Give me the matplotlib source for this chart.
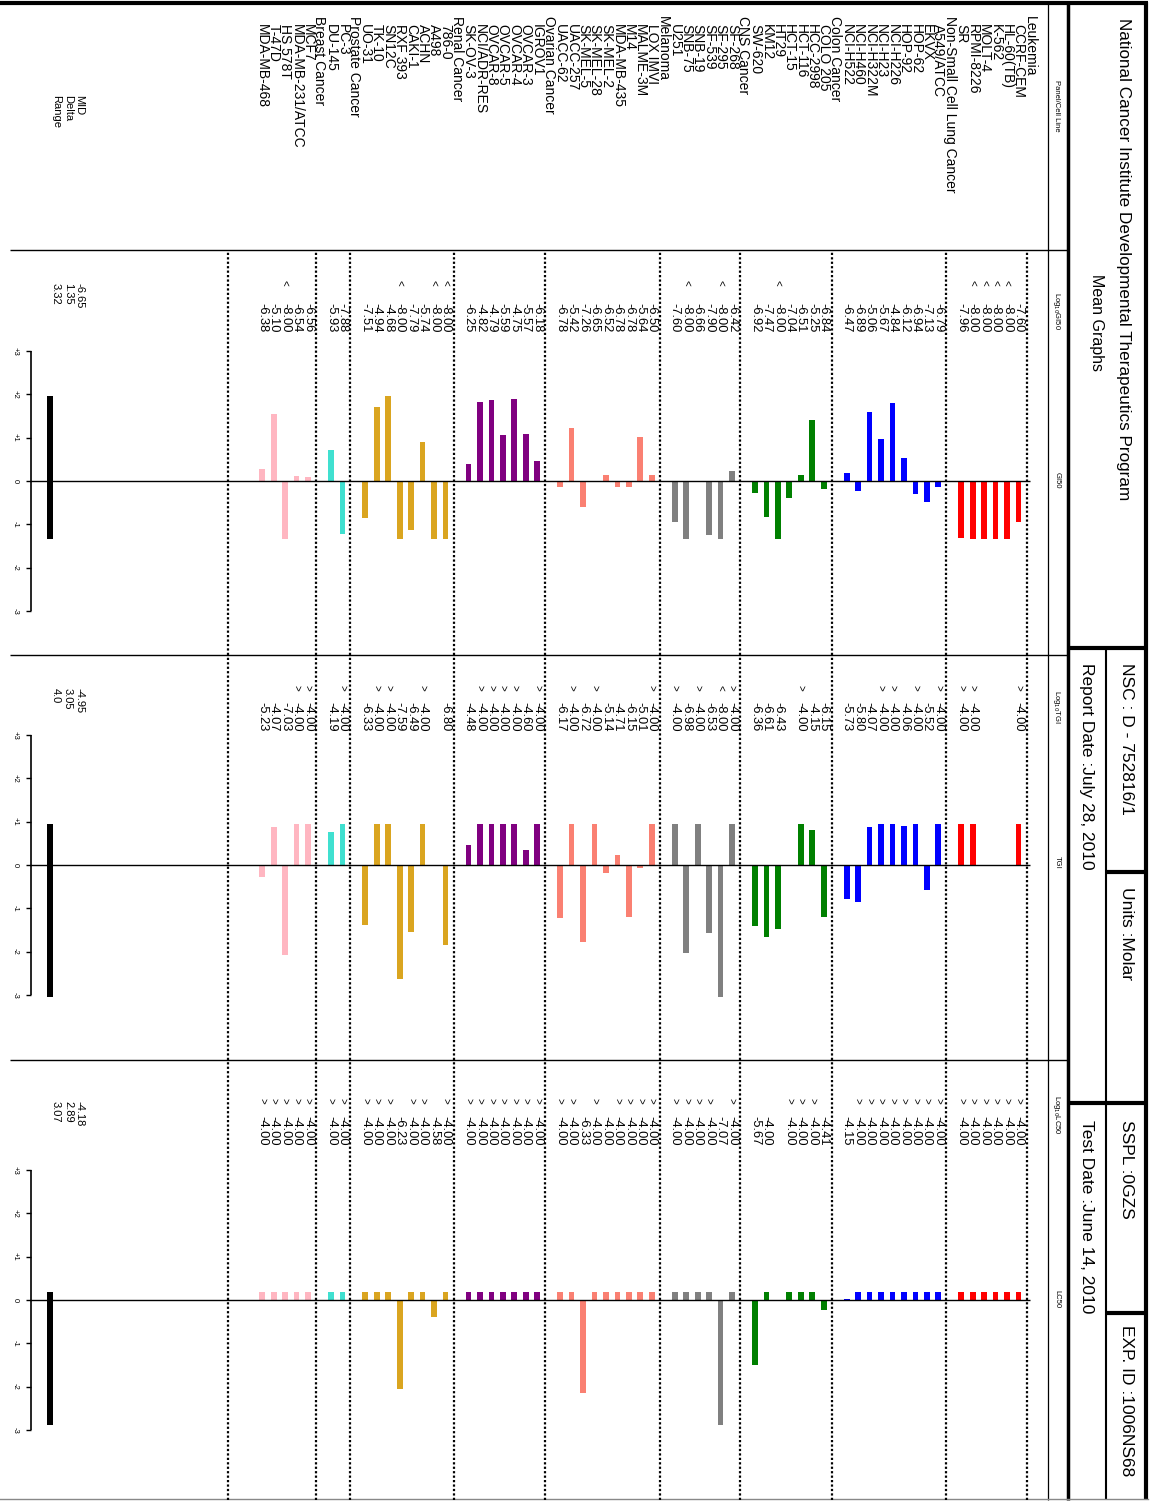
import numpy as np
import matplotlib
matplotlib.use("Agg")
import matplotlib.pyplot as plt

plt.rcParams['font.family'] = ['Liberation Sans', 'DejaVu Sans']

# ---- data -------------------------------------------------------------
panels = ["Leukemia", "Non-Small Cell Lung Cancer", "Colon Cancer", "CNS Cancer",
          "Melanoma", "Ovarian Cancer", "Renal Cancer", "Prostate Cancer", "Breast Cancer"]
panel_sizes = [6, 9, 7, 6, 9, 7, 8, 2, 5]
panel_colors = ["#ff0000", "#0000ff", "#008000", "#808080", "#fa8072",
                "#800080", "#daa520", "#40e0d0", "#ffb6c1"]

cell_lines = [
    "CCRF-CEM", "HL-60(TB)", "K-562", "MOLT-4", "RPMI-8226", "SR",
    "A549/ATCC", "EKVX", "HOP-62", "HOP-92", "NCI-H226", "NCI-H23", "NCI-H322M", "NCI-H460", "NCI-H522",
    "COLO 205", "HCC-2998", "HCT-116", "HCT-15", "HT29", "KM12", "SW-620",
    "SF-268", "SF-295", "SF-539", "SNB-19", "SNB-75", "U251",
    "LOX IMVI", "MALME-3M", "M14", "MDA-MB-435", "SK-MEL-2", "SK-MEL-28", "SK-MEL-5", "UACC-257", "UACC-62",
    "IGROV1", "OVCAR-3", "OVCAR-4", "OVCAR-5", "OVCAR-8", "NCI/ADR-RES", "SK-OV-3",
    "786-0", "A498", "ACHN", "CAKI-1", "RXF 393", "SN12C", "TK-10", "UO-31",
    "PC-3", "DU-145",
    "MCF7", "MDA-MB-231/ATCC", "HS 578T", "T-47D", "MDA-MB-468",
]

gi50 = [-7.60, -8.00, -8.00, -8.00, -8.00, -7.96,
        -6.79, -7.13, -6.94, -6.12, -4.84, -5.67, -5.06, -6.89, -6.47,
        -6.84, -5.25, -6.51, -7.04, -8.00, -7.47, -6.92,
        -6.42, -8.00, -7.90, -6.66, -8.00, -7.60,
        -6.50, -5.64, -6.78, -6.78, -6.52, -6.65, -7.26, -5.42, -6.78,
        -6.18, -5.57, -4.75, -5.59, -4.79, -4.82, -6.25,
        -8.00, -8.00, -5.74, -7.79, -8.00, -4.68, -4.94, -7.51,
        -7.88, -5.93,
        -6.56, -6.54, -8.00, -5.10, -6.38]
gi50_flag = ["", "<", "<", "<", "<", "",
             "", "", "", "", "", "", "", "", "",
             "", "", "", "", "<", "", "",
             "", "<", "", "", "<", "",
             "", "", "", "", "", "", "", "", "",
             "", "", "", "", "", "", "",
             "<", "<", "", "", "<", "", "", "",
             "", "",
             "", "", "<", "", ""]

tgi = [-4.00, None, None, None, -4.00, -4.00,
       -4.00, -5.52, -4.00, -4.06, -4.00, -4.00, -4.07, -5.80, -5.73,
       -6.15, -4.15, -4.00, None, -6.43, -6.61, -6.36,
       -4.00, -8.00, -6.53, -4.00, -6.98, -4.00,
       -4.00, -5.01, -6.15, -4.71, -5.14, -4.00, -6.72, -4.00, -6.17,
       -4.00, -4.60, -4.00, -4.00, -4.00, -4.00, -4.48,
       -6.80, None, -4.00, -6.49, -7.59, -4.00, -4.00, -6.33,
       -4.00, -4.19,
       -4.00, -4.00, -7.03, -4.07, -5.23]
tgi_flag = [">", "", "", "", ">", ">",
            ">", "", ">", "", ">", ">", "", "", "",
            "", "", ">", "", "", "", "",
            ">", "<", "", ">", "", ">",
            ">", "", "", "", "", ">", "", ">", "",
            ">", "", ">", ">", ">", ">", "",
            "", "", ">", "", "", ">", ">", "",
            ">", "",
            ">", ">", "", "", ""]

lc50 = [-4.00, -4.00, -4.00, -4.00, -4.00, -4.00,
        -4.00, -4.00, -4.00, -4.00, -4.00, -4.00, -4.00, -4.00, -4.15,
        -4.41, -4.00, -4.00, -4.00, None, -4.00, -5.67,
        -4.00, -7.07, -4.00, -4.00, -4.00, -4.00,
        -4.00, -4.00, -4.00, -4.00, -4.00, -4.00, -6.33, -4.00, -4.00,
        -4.00, -4.00, -4.00, -4.00, -4.00, -4.00, -4.00,
        -4.00, -4.58, -4.00, -4.00, -6.23, -4.00, -4.00, -4.00,
        -4.00, -4.00,
        -4.00, -4.00, -4.00, -4.00, -4.00]
lc50_flag = [">", ">", ">", ">", ">", ">",
             ">", ">", ">", ">", ">", ">", ">", ">", "",
             "", ">", ">", ">", "", "", "",
             ">", "", ">", ">", ">", ">",
             ">", ">", ">", ">", "", ">", "", ">", ">",
             ">", ">", ">", ">", ">", ">", ">",
             ">", "", ">", ">", "", ">", ">", ">",
             ">", ">",
             ">", ">", ">", ">", ">"]

mid_values = [-6.65, -4.95, -4.18]
summary_text = [("-6.65", "1.35", "3.32"), ("-4.95", "3.05", "4.0"), ("-4.18", "2.89", "3.07")]
scale_labels = ["+3", "+2", "+1", "0", "-1", "-2", "-3"]

# ---- layout (pixels of the 1151x1502 page) -----------------------------
W, H = 1151, 1502
X0, DX = 1030.0, 11.46          # x of row 0, row spacing
UNIT = 43.3                     # pixels per log unit


def px(r):
    return X0 - r * DX


def rw(x):
    return (X0 - x) / DX


rows, header_rows, line_colors = [], [], []
r = 0
for size, col in zip(panel_sizes, panel_colors):
    header_rows.append(r)
    r += 1
    for k in range(size):
        rows.append(r)
        line_colors.append(col)
        r += 1

fig = plt.figure(figsize=(W / 100, H / 100), dpi=100)
page = fig.add_axes([0, 0, 1, 1])
page.set_xlim(0, W)
page.set_ylim(H, 0)
page.axis("off")


def add_px_axes(x0, y0, x1, y1):
    ax = fig.add_axes([x0 / W, 1 - y1 / H, (x1 - x0) / W, (y1 - y0) / H])
    ax.patch.set_alpha(0)
    ax.axis("off")
    return ax


# frame lines
k = dict(color="black", solid_capstyle="butt")
page.plot([0, 1148], [3, 3], lw=3, **k)
page.plot([1146, 1146], [2, 1500], lw=3, **k)
page.plot([1068, 1068], [2, 1500], lw=2.5, **k)
page.plot([1048, 1048], [2, 1500], lw=0.9, **k)
page.plot([1068, 1146], [648, 648], lw=3, **k)
page.plot([1106, 1106], [648, 1500], lw=1.5, **k)
page.plot([1106, 1146], [872, 872], lw=3, **k)
page.plot([1068, 1146], [1103, 1103], lw=3, **k)
page.plot([1106, 1146], [1313, 1313], lw=3, **k)
page.plot([0, 1148], [1499, 1499], lw=1, color="#888888")
for yy in (250, 655, 1060):
    page.plot([10, 1068], [yy, yy], lw=1, **k)

# header box text
page.text(1124, 18, "National Cancer Institute Developmental Therapeutics Program",
          rotation=-90, ha="center", va="top", fontsize=12.3)
page.text(1097, 322, "Mean Graphs", rotation=-90, ha="center", va="center", fontsize=11.5)
for x, y, s in [(1127, 663, "NSC : D - 752816/1"), (1087, 663, "Report Date :July 28, 2010"),
                (1127, 887, "Units :Molar"), (1087, 1120, "Test Date :June 14, 2010"),
                (1127, 1120, "SSPL :0GZS"), (1127, 1325, "EXP. ID :1006NS68")]:
    page.text(x, y, s, rotation=-90, ha="center", va="top", fontsize=12.5)

for y, s in [(80, "Panel/Cell Line"), (292, r"Log$_{10}$GI50"), (472, "GI50"),
             (690, r"Log$_{10}$TGI"), (856, "TGI"), (1095, r"Log$_{10}$LC50"), (1290, "LC50")]:
    page.text(1057, y, s, rotation=-90, ha="center", va="top", fontsize=5.5)

# panel / cell line names
for hr, name in zip(header_rows, panels):
    page.text(px(hr), 16, name, rotation=-90, ha="center", va="top", fontsize=10)
for rr, name in zip(rows, cell_lines):
    page.text(px(rr), 24, name, rotation=-90, ha="center", va="top", fontsize=10)

for lx, s in zip((79, 68, 56), ("MID", "Delta", "Range")):
    page.text(lx, 95, s, rotation=-90, ha="center", va="top", fontsize=8)

# ---- the three mean graphs --------------------------------------------
graphs = [
    (gi50, gi50_flag, 250, 655, 481, 283, 303),
    (tgi, tgi_flag, 655, 1060, 865, 688, 702),
    (lc50, lc50_flag, 1060, 1500, 1300, 1101, 1116),
]

for gi, (vals, flags, ytop, ybot, y0, ysym, ytxt) in enumerate(graphs):
    ax = add_px_axes(10, ytop, 1048, ybot)
    ax.set_xlim(rw(10), rw(1048))
    ax.set_ylim((y0 - ybot) / UNIT, (y0 - ytop) / UNIT)
    mid = mid_values[gi]

    def dy(py):
        return (y0 - py) / UNIT

    # bars
    xs = [rr for rr, v in zip(rows, vals) if v is not None]
    hs = [v - mid for v in vals if v is not None]
    cs = [c for c, v in zip(line_colors, vals) if v is not None]
    ax.bar(xs, hs, width=0.5, color=cs, linewidth=0)

    # zero line
    ax.hlines(0, rw(1030), rw(30), color="black", lw=1)

    # scale
    ax.vlines(rw(31), -3, 3, color="black", lw=1.2)
    for t, lab in zip(range(3, -4, -1), scale_labels):
        ax.hlines(t, rw(31), rw(26), color="black", lw=1)
        ax.text(rw(15), t, lab, rotation=-90, ha="center", va="center", fontsize=5.5)

    # range bar
    present = [v for v in vals if v is not None]
    lo, hi = min(present) - mid, max(present) - mid
    ax.bar(rw(50), hi - lo, bottom=lo, width=0.55, color="black", linewidth=0)

    # dotted separators
    for hr in header_rows:
        ax.axvline(hr + 0.3, color="black", lw=1.6, ls=(0, (1, 1)))
    ax.axvline(rw(228), color="black", lw=1.6, ls=(0, (1, 1)))

    # values and flags
    for rr, v, f in zip(rows, vals, flags):
        if v is None:
            continue
        ax.text(rr, dy(ytxt), f"{v:.2f}", rotation=-90, ha="center", va="top", fontsize=9.3)
        if f:
            ax.text(rr, dy(ysym), f, rotation=-90, ha="center", va="center", fontsize=7)

    # MID / Delta / Range
    for lx, s in zip((79, 68, 56), summary_text[gi]):
        ax.text(rw(lx), dy(ysym), s, rotation=-90, ha="center", va="top", fontsize=8)

fig.savefig("out.png", dpi=100)
